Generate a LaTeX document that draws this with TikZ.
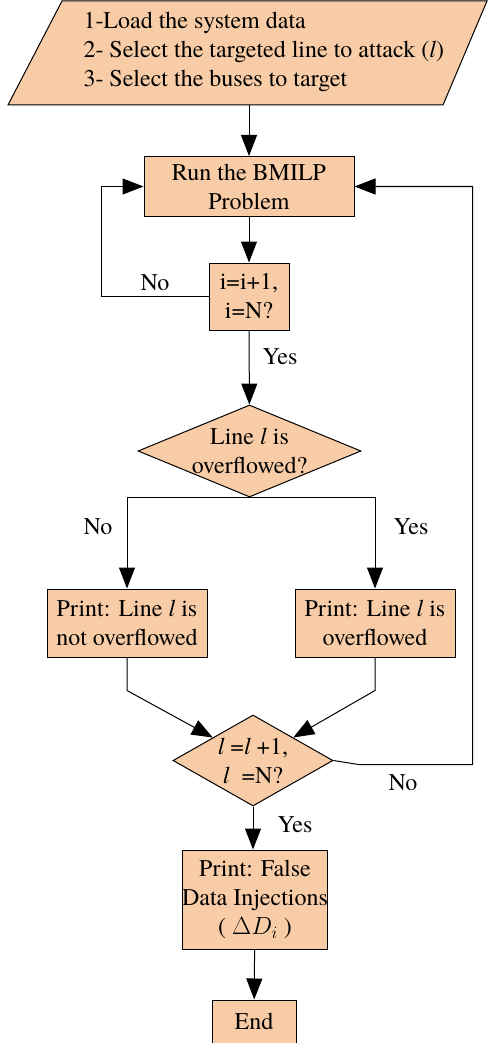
\documentclass[tikz,border=0pt]{standalone}
\usepackage{fontspec}
\setmainfont{texgyretermes}[Extension=.otf,UprightFont=*-regular,
  ItalicFont=*-italic,BoldFont=*-bold,BoldItalicFont=*-bolditalic]
\usetikzlibrary{arrows.meta,shapes.geometric}
\definecolor{peach}{RGB}{248,204,166}

\begin{document}
\begin{tikzpicture}[
  x=1pt, y=-1pt,
  font=\fontsize{24}{29}\selectfont,
  line width=1pt,
  box/.style={draw,fill=peach,align=center,inner sep=0pt},
  dec/.style={draw,fill=peach,diamond,inner sep=0pt},
  lbl/.style={inner sep=1pt},
  arr/.style={-{Triangle[length=21pt,width=16pt]}}]
\useasboundingbox (0,0) rectangle (487,1043);
% input
\draw[fill=peach] (8,105) -- (62,1) -- (487,1) -- (443,105) -- cycle;
\coordinate (loadbot) at (249,105);
\node[align=left,anchor=west,inner sep=0pt] (load) at (83,52)
  {1-Load the system data\\2- Select the targeted line to attack (\textit{l})\\3- Select the buses to target};
% main loop
\node[box,minimum width=210pt,minimum height=60pt] (run) at (249,186.5) {Run the BMILP\\Problem};
\node[box,minimum width=80pt,minimum height=67pt] (inc) at (249,296.5) {i=i+1,\\i=N?};
\node[dec,minimum width=223pt,minimum height=92pt,
  label={[align=center]center:Line \textit{l} is\\overflowed?}] (chk) at (249.5,451) {};
\node[box,minimum width=160pt,minimum height=68pt] (notover) at (127,623) {Print: Line \textit{l} is\\not overflowed};
\node[box,minimum width=160pt,minimum height=68pt] (over) at (375,623) {Print: Line \textit{l} is\\overflowed};
\node[dec,minimum width=160pt,minimum height=91pt,
  label={[align=center]center:\textit{l} =\textit{l} +1,\\\textit{l}\ \ =N?}] (nextl) at (253,760.5) {};
\node[box,minimum width=143pt,minimum height=99pt] (fdi) at (255,899.5) {Print: False\\Data Injections\\( $\Delta D_{i}$ )};
\node[box,minimum width=84pt,minimum height=43pt] (stop) at (254,1021.5) {End};
% labels
\node[lbl] (no1) at (155,283) {No};
\node[lbl] (yes1) at (280,357) {Yes};
\node[lbl] (no2) at (98,527) {No};
\node[lbl] (yes2) at (411,527) {Yes};
\node[lbl] (no3) at (403,783) {No};
\node[lbl] (yes3) at (295,825) {Yes};
% connectors
\draw[arr] (loadbot) -- (run.north);
\draw[arr] (run) -- (inc);
\draw[arr] (inc.west) -- ++(-107,0) |- (run.west);
\draw[arr] (inc) -- (chk);
\draw[arr] (chk.south) -| (notover.north);
\draw[arr] (chk.south) -| (over.north);
\draw[arr] (notover.south) -- ++(0,33) -- (nextl.north west);
\draw[arr] (over.south) -- ++(0,33) -- (nextl.north east);
\draw[arr] (nextl.east) -- ++(25,4) -- ++(114,0) |- (run.east);
\draw[arr] (nextl.south) -- (nextl.south |- fdi.north);
\draw[arr] (fdi) -- (stop);
\end{tikzpicture}
\end{document}
